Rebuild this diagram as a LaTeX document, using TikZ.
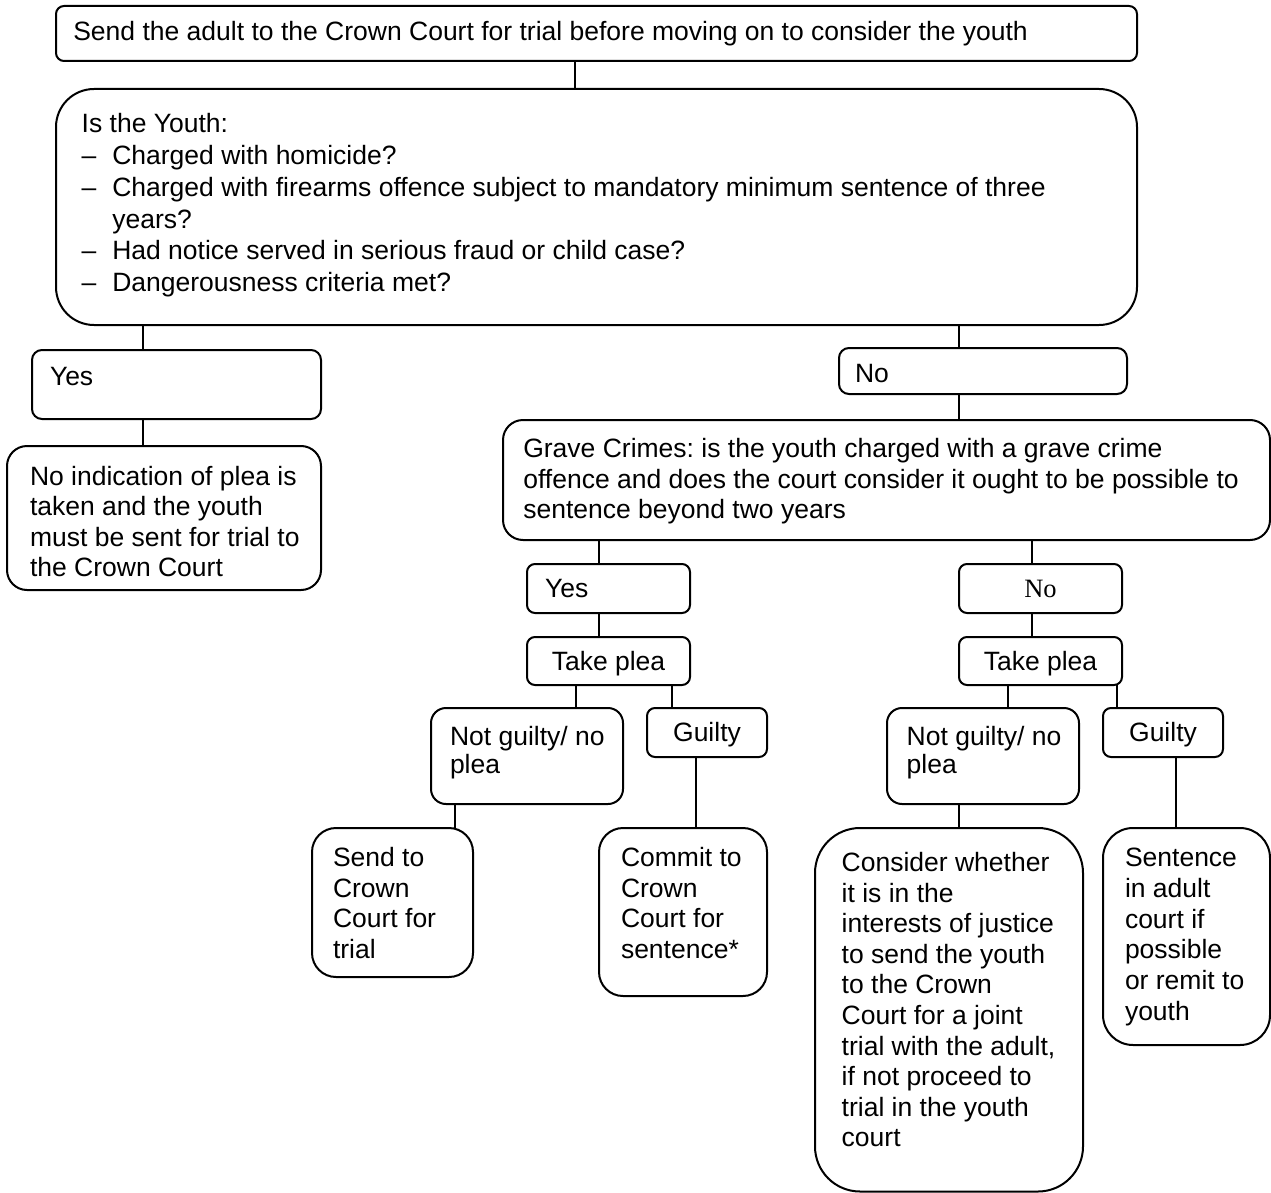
\documentclass[tikz,border=0pt]{standalone}
\usepackage{fontspec}
\setmainfont{Liberation Sans}
\newfontfamily\timesfont{Liberation Serif}
\frenchspacing
% #1 width, #2 height, #3 left pad, #4 first baseline from top, #5 baselineskip, #6 lines
\newcommand\bx[6]{\vbox to #2pt{\fontsize{26.5}{#5}\selectfont\frenchspacing
  \vskip\dimexpr#4pt-0.7\baselineskip\relax
  \hbox to #1pt{\hskip#3pt\begin{tabular}[t]{@{}l@{}}#6\end{tabular}\hfil}\vfil}}
% centred one-line box: #1 width, #2 height, #3 baseline from top, #4 text
\newcommand\cbx[4]{\vbox to #2pt{\fontsize{26.5}{30.6}\selectfont
  \vskip\dimexpr#3pt-0.7\baselineskip\relax
  \hbox to #1pt{\hfil\strut#4\hfil}\vfil}}
\newcommand\itm{\makebox[30.6pt][l]{–}}
\newcommand\link[3]{\coordinate (x#1#2) at (#3,0);
  \draw[conn] (#1.south -| x#1#2) -- (#2.north -| x#1#2);}
\begin{document}
\begin{tikzpicture}[x=1pt,y=-1pt,
  box/.style={draw, line width=2pt, inner sep=0pt, outer sep=0pt, anchor=north west, fill=white},
  conn/.style={line width=2pt}]
\useasboundingbox[fill=white] (0,0) rectangle (1271,1193);

\node[box, rounded corners=8pt] (top) at (56,6)
  {\bx{1081}{55}{17.3}{34.7}{30.6}{Send the adult to the Crown Court for trial before moving on to consider the youth}};
\node[box, rounded corners=38pt] (youth) at (56,89)
  {\bx{1081}{236}{25.7}{43.3}{31.9}{Is the Youth:\\
   \itm Charged with homicide?\\
   \itm Charged with firearms offence subject to mandatory minimum sentence of three\\
   \hspace*{30.6pt}years?\\
   \itm Had notice served in serious fraud or child case?\\
   \itm Dangerousness criteria met?}};
\node[box, rounded corners=10pt] (yes1) at (32,350)
  {\bx{289}{69}{18}{35}{30.6}{Yes}};
\node[box, rounded corners=20pt] (noind) at (7,446)
  {\bx{314}{144}{23}{39}{30.6}{No indication of plea is\\ taken and the youth\\ must be sent for trial to\\ the Crown Court}};
\node[box, rounded corners=10pt] (no1) at (839,348)
  {\bx{288}{46}{16}{34.3}{30.6}{No}};
\node[box, rounded corners=20pt] (grave) at (503,420)
  {\bx{767}{120}{20.3}{37.8}{30.2}{Grave Crimes: is the youth charged with a grave crime\\ offence and does the court consider it ought to be possible to\\ sentence beyond two years}};

\node[box, rounded corners=8pt] (yes2) at (527,564)
  {\bx{163}{49}{18}{33.3}{30.6}{Yes}};
\node[box, rounded corners=8pt] (take1) at (527,637)
  {\cbx{163}{48}{33}{Take plea}};
\node[box, rounded corners=15pt] (ng1) at (431,708)
  {\bx{192}{96}{19}{37}{28.5}{Not guilty/ no\\ plea}};
\node[box, rounded corners=8pt] (guilty1) at (647,708)
  {\cbx{120}{49}{33.7}{Guilty}};
\node[box, rounded corners=24pt] (send) at (312,828)
  {\bx{161}{149}{21}{38.7}{30.6}{Send to\\ Crown\\ Court for\\ trial}};
\node[box, rounded corners=24pt] (commit) at (599,828)
  {\bx{168}{168}{22}{38.7}{30.6}{Commit to\\ Crown\\ Court for\\ sentence*}};

\node[box, rounded corners=8pt] (no2) at (959,564)
  {\cbx{163}{49}{33.3}{\timesfont No}};
\node[box, rounded corners=8pt] (take2) at (959,637)
  {\cbx{163}{48}{33}{Take plea}};
\node[box, rounded corners=15pt] (ng2) at (887,708)
  {\bx{192}{96}{19.7}{37}{28.5}{Not guilty/ no\\ plea}};
\node[box, rounded corners=8pt] (guilty2) at (1103,708)
  {\cbx{120}{49}{33.7}{Guilty}};
\node[box, rounded corners=45pt] (consider) at (815,828)
  {\bx{268}{363.5}{26.7}{43.7}{30.56}{Consider whether\\ it is in the\\ interests of justice\\ to send the youth\\ to the Crown\\ Court for a joint\\ trial with the adult,\\ if not proceed to\\ trial in the youth\\ court}};
\node[box, rounded corners=30pt] (sentence) at (1103,828)
  {\bx{167}{217}{22}{38.7}{30.7}{Sentence\\ in adult\\ court if\\ possible\\ or remit to\\ youth}};

\link{top}{youth}{575}
\link{youth}{yes1}{143}
\link{yes1}{noind}{143}
\link{youth}{no1}{959}
\link{no1}{grave}{959}
\link{grave}{yes2}{599}
\link{yes2}{take1}{599}
\link{take1}{ng1}{576}
\link{take1}{guilty1}{672}
\link{ng1}{send}{455}
\link{guilty1}{commit}{696}
\link{grave}{no2}{1032}
\link{no2}{take2}{1032}
\link{take2}{ng2}{1008}
\link{take2}{guilty2}{1117}
\link{ng2}{consider}{959}
\link{guilty2}{sentence}{1176}
\end{tikzpicture}
\end{document}
